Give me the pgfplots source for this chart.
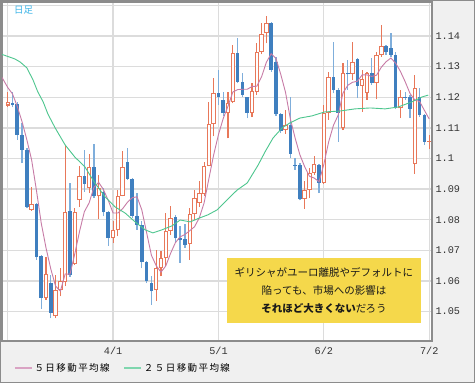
\documentclass[border=0pt]{standalone}
\usepackage{pgfplots}
\pgfplotsset{compat=1.18}
\usepackage{pgfplotstable}
\usepackage{fontspec}
\newfontfamily\jp{Noto Sans CJK JP}
\newfontfamily\jpleg{Noto Sans CJK JP}[LetterSpace=15]
\newfontfamily\monof{Liberation Mono}
\definecolor{bgc}{HTML}{F0F0F0}
\definecolor{framec}{HTML}{8C8C8C}
\definecolor{gridc}{HTML}{DCDCDC}
\definecolor{upc}{HTML}{E8785A}
\definecolor{dnc}{HTML}{3F7FBF}
\definecolor{dnw}{HTML}{7FAEDB}
\definecolor{ma5}{HTML}{C77BA6}
\definecolor{ma25}{HTML}{4DC68E}
\definecolor{ma5l}{HTML}{D9A3C3}
\definecolor{ma25l}{HTML}{7FD6AE}
\definecolor{boxc}{HTML}{F5D84B}
\definecolor{titc}{HTML}{3DB5E8}

\pgfplotstableread{
i O H L C
0 1.1173 1.1217 1.1168 1.1184
5 1.0833 1.0908 1.0830 1.0852
8 1.0545 1.0678 1.0539 1.0624
10 1.0485 1.0621 1.0479 1.0570
11 1.0570 1.0642 1.0550 1.0599
12 1.0596 1.1041 1.0583 1.0824
14 1.0657 1.0838 1.0653 1.0824
15 1.0865 1.0974 1.0843 1.0943
17 1.0903 1.1014 1.0887 1.0971
19 1.0876 1.0947 1.0802 1.0903
22 1.0740 1.0795 1.0724 1.0765
23 1.0765 1.0898 1.0746 1.0878
24 1.0878 1.1023 1.0876 1.0971
31 1.0570 1.0702 1.0534 1.0642
32 1.0642 1.0697 1.0615 1.0675
33 1.0675 1.0822 1.0648 1.0764
34 1.0764 1.0846 1.0751 1.0805
38 1.0722 1.0838 1.0670 1.0820
39 1.0820 1.0896 1.0800 1.0871
40 1.0854 1.0925 1.0843 1.0887
41 1.0885 1.0990 1.0876 1.0977
42 1.0977 1.1186 1.0974 1.1113
43 1.1113 1.1262 1.1072 1.1213
46 1.1148 1.1218 1.1066 1.1180
47 1.1186 1.1371 1.1180 1.1343
51 1.1150 1.1246 1.1135 1.1221
52 1.1218 1.1376 1.1208 1.1349
53 1.1349 1.1441 1.1341 1.1407
54 1.1409 1.1465 1.1376 1.1443
58 1.1093 1.1159 1.1080 1.1110
62 1.0867 1.0925 1.0836 1.0898
63 1.0898 1.0968 1.0871 1.0954
64 1.0954 1.1007 1.0947 1.0983
66 1.0920 1.1175 1.0917 1.1148
67 1.1148 1.1284 1.1126 1.1267
70 1.1099 1.1311 1.1093 1.1280
72 1.1276 1.1382 1.1257 1.1316
74 1.1237 1.1289 1.1153 1.1259
75 1.1215 1.1284 1.1191 1.1280
77 1.1246 1.1349 1.1193 1.1338
78 1.1338 1.1436 1.1333 1.1367
82 1.1164 1.1224 1.1132 1.1200
85 1.0983 1.1273 1.0950 1.1229
88 1.1054 1.1077 1.1030 1.1058
}\uptab

\pgfplotstableread{
i O H L C
1 1.1182 1.1218 1.1167 1.1174
2 1.1178 1.1186 1.1061 1.1077
3 1.1077 1.1115 1.0985 1.1028
4 1.1028 1.1034 1.0838 1.0843
6 1.0852 1.0855 1.0670 1.0678
7 1.0680 1.0686 1.0509 1.0545
9 1.0593 1.0621 1.0479 1.0496
13 1.0830 1.0920 1.0613 1.0621
16 1.0943 1.1028 1.0892 1.0917
18 1.0971 1.1048 1.0871 1.0876
20 1.0889 1.0903 1.0811 1.0824
21 1.0824 1.0827 1.0715 1.0740
25 1.0988 1.1034 1.0930 1.0933
26 1.0933 1.0936 1.0805 1.0811
27 1.0811 1.0887 1.0767 1.0784
28 1.0784 1.0795 1.0642 1.0661
29 1.0661 1.0664 1.0593 1.0599
30 1.0593 1.0615 1.0523 1.0566
35 1.0809 1.0816 1.0724 1.0740
36 1.0740 1.0778 1.0659 1.0735
37 1.0737 1.0787 1.0708 1.0718
44 1.1213 1.1289 1.1175 1.1202
45 1.1191 1.1218 1.1139 1.1148
48 1.1343 1.1392 1.1246 1.1251
49 1.1251 1.1278 1.1202 1.1208
50 1.1200 1.1202 1.1132 1.1150
55 1.1443 1.1447 1.1284 1.1289
56 1.1316 1.1333 1.1139 1.1145
57 1.1146 1.1148 1.1083 1.1091
59 1.1110 1.1202 1.1001 1.1015
60 1.0979 1.1001 1.0963 1.0976
61 1.0979 1.0985 1.0863 1.0867
65 1.0979 1.0983 1.0887 1.0920
68 1.1267 1.1382 1.1213 1.1224
69 1.1224 1.1229 1.1055 1.1150
71 1.1278 1.1322 1.1224 1.1275
73 1.1324 1.1327 1.1197 1.1237
76 1.1280 1.1327 1.1240 1.1246
79 1.1367 1.1371 1.1338 1.1349
80 1.1360 1.1409 1.1333 1.1338
81 1.1338 1.1349 1.1161 1.1164
83 1.1202 1.1218 1.1191 1.1199
84 1.1200 1.1208 1.1132 1.1161
86 1.1200 1.1229 1.1137 1.1142
87 1.1142 1.1146 1.1045 1.1055
}\dntab

\pgfplotsset{
  candle/.style n args={2}{forget plot, draw=none, mark=none,
    error bars/.cd, y dir=plus, y explicit, error mark=none,
    error bar style={line width=#1, draw=#2, solid}},
}

\begin{document}
\begin{tikzpicture}[x=1pt,y=1pt]
\fill[bgc] (0,0) rectangle (475,383);
\begin{axis}[
  at={(2pt,42pt)}, anchor=south west, scale only axis,
  width=430pt, height=339pt,
  xmin=-1.19, xmax=88.58, ymin=1.0404, ymax=1.1511,
  axis background/.style={fill=white},
  axis line style={draw=framec, line width=1.2pt},
  grid=major, major grid style={draw=gridc, line width=1.3pt},
  major tick length=0pt,
  xtick={0,22,44,66,88}, xticklabels={,4/1,5/1,6/2,7/2},
  ytick={1.05,1.06,1.07,1.08,1.09,1.10,1.11,1.12,1.13,1.14,1.15},
  yticklabels={1.05,1.06,1.07,1.08,1.09,1.1,1.11,1.12,1.13,1.14,},
  yticklabel pos=right,
  tick label style={font=\monof\fontsize{10.2}{12}\selectfont, text=black!80},
  xticklabel style={yshift=-2.5pt},
  legend style={at={(rel axis cs:0,0)}, anchor=north west, xshift=9pt, yshift=-18pt,
    fill=none, draw=none, font=\jpleg\fontsize{9.5}{11}\selectfont,
    legend columns=2, /tikz/every even column/.append style={column sep=12pt}},
  legend cell align=left,
]
% wicks
\addplot[candle={1.1pt}{upc}] table[x=i, y=L, y error expr=\thisrow{H}-\thisrow{L}] {\uptab};
\addplot[candle={1.3pt}{dnw}] table[x=i, y=L, y error expr=\thisrow{H}-\thisrow{L}] {\dntab};
% bodies
\addplot[candle={3.6pt}{dnc}] table[x=i, y=C, y error expr=\thisrow{O}-\thisrow{C}] {\dntab};
\addplot[candle={4.4pt}{upc}] table[x=i, y=O, y error expr=\thisrow{C}-\thisrow{O}] {\uptab};
\addplot[candle={2.4pt}{white}] table[x=i, y expr=\thisrow{O}+0.00033, y error expr={max(\thisrow{C}-\thisrow{O}-0.00066,0)}] {\uptab};
% 5-day MA
\addplot[draw=ma5, line width=0.9pt, mark=none, forget plot] coordinates {
(-1.2,1.1265)(0,1.1232)(1,1.1211)(2,1.1170)(3,1.1120)(4,1.1061)(5,1.0995)(6,1.0896)(7,1.0789)(8,1.0708)
(9,1.0639)(10,1.0583)(11,1.0567)(12,1.0623)(13,1.0622)(14,1.0688)(15,1.0762)(16,1.0826)(17,1.0855)
(18,1.0906)(19,1.0922)(20,1.0898)(21,1.0863)(22,1.0822)(23,1.0822)(24,1.0836)(25,1.0857)(26,1.0872)
(27,1.0875)(28,1.0832)(29,1.0758)(30,1.0684)(31,1.0650)(32,1.0629)(33,1.0649)(34,1.0690)(35,1.0725)
(36,1.0744)(37,1.0752)(38,1.0764)(39,1.0777)(40,1.0806)(41,1.0855)(42,1.0934)(43,1.1012)(44,1.1078)
(45,1.1131)(46,1.1171)(47,1.1217)(48,1.1225)(49,1.1226)(50,1.1226)(51,1.1235)(52,1.1236)(53,1.1267)
(54,1.1314)(55,1.1342)(56,1.1327)(57,1.1275)(58,1.1216)(59,1.1130)(60,1.1067)(61,1.1012)(62,1.0973)
(63,1.0942)(64,1.0936)(65,1.0924)(66,1.0981)(67,1.1054)(68,1.1108)(69,1.1142)(70,1.1214)(71,1.1239)
(72,1.1249)(73,1.1252)(74,1.1273)(75,1.1273)(76,1.1268)(77,1.1272)(78,1.1298)(79,1.1316)(80,1.1328)
(81,1.1311)(82,1.1284)(83,1.1250)(84,1.1212)(85,1.1191)(86,1.1186)(87,1.1157)(88,1.1129)};
% 25-day MA
\addplot[draw=ma25, line width=0.9pt, mark=none, forget plot] coordinates {
(-1.2,1.1340)(1.5,1.1325)(2.6,1.1315)(4.0,1.1296)(5.3,1.1256)(6.3,1.1217)(7.4,1.1185)(8.4,1.1145)
(9.9,1.1100)(12.0,1.1044)(14.0,1.1005)(16.1,1.0973)(18.2,1.0920)(20.3,1.0875)(22.4,1.0842)(24.5,1.0822)
(26.6,1.0793)(28.7,1.0767)(30.3,1.0757)(32.2,1.0767)(34.3,1.0780)(36.0,1.0799)(38.1,1.0793)(40.1,1.0806)
(41.8,1.0816)(43.7,1.0832)(45.8,1.0865)(47.9,1.0897)(50.0,1.0920)(52.3,1.0979)(53.7,1.1021)(55.4,1.1067)
(57.3,1.1100)(58.9,1.1116)(61.0,1.1132)(63.5,1.1139)(66.2,1.1152)(69.4,1.1155)(72.5,1.1162)(75.7,1.1165)
(78.8,1.1162)(81.5,1.1168)(84.4,1.1185)(86.5,1.1201)(87.8,1.1207)};
\addlegendimage{line legend, draw=ma5l, line width=1.3pt}
\addlegendentry{５日移動平均線}
\addlegendimage{line legend, draw=ma25l, line width=1.3pt}
\addlegendentry{２５日移動平均線}
\node[font=\jp\fontsize{9.5}{11}\selectfont, text=titc] at (rel axis cs:0.05,0.976) {日足};
\node[fill=boxc, inner sep=0pt, minimum width=194pt, minimum height=65pt, align=center,
  font=\jp\fontsize{10.5}{18}\selectfont, text=black!90] at (axis cs:66.03,1.0569)
  {ギリシャがユーロ離脱やデフォルトに\\陥っても、市場への影響は\\\textbf{それほど大きくない}だろう};
\end{axis}
\draw[framec, line width=1.2pt] (0.6pt,0.6pt) rectangle (474.4pt,382.4pt);
\pgfresetboundingbox
\useasboundingbox (0pt,0pt) rectangle (475pt,383pt);
\end{tikzpicture}
\end{document}
